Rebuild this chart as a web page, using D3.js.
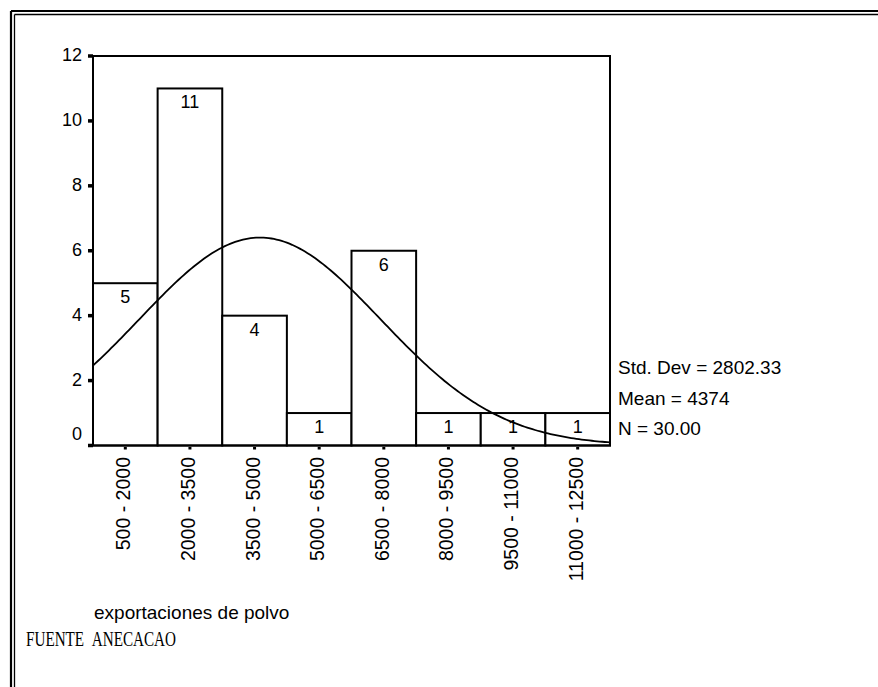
<!DOCTYPE html>
<html>
<head>
<meta charset="utf-8">
<script src="https://cdn.jsdelivr.net/npm/d3@7"></script>
<style>
  html, body { margin: 0; padding: 0; background: #fff; }
  svg { display: block; }
  text { font-family: Arial, "Liberation Sans", sans-serif; fill: #000; }
</style>
</head>
<body>
<script>
// ---- data ----
const categories = ["500 - 2000", "2000 - 3500", "3500 - 5000", "5000 - 6500",
                    "6500 - 8000", "8000 - 9500", "9500 - 11000", "11000 - 12500"];
const binEdges = [500, 2000, 3500, 5000, 6500, 8000, 9500, 11000, 12500];
const counts = [5, 11, 4, 1, 6, 1, 1, 1];
const yTicks = [0, 2, 4, 6, 8, 10, 12];
const stdDev = 2802.33;
const mean = 4374;
const nCases = 30;
const statLabels = ["Std. Dev = 2802.33", "Mean = 4374", "N = 30.00"];
const xTitle = "exportaciones de polvo";
const sourceNote = "FUENTE\u00a0\u00a0ANECACAO";

// ---- layout ----
const W = 878, H = 687;
const svg = d3.select("body").append("svg").attr("width", W).attr("height", H);

// outer double frame (top & left)
svg.append("line").attr("x1", 11).attr("y1", 11).attr("x2", W).attr("y2", 11)
  .attr("stroke", "#000").attr("stroke-width", 2.2);
svg.append("line").attr("x1", 11).attr("y1", 11).attr("x2", 11).attr("y2", H)
  .attr("stroke", "#000").attr("stroke-width", 2.2);
svg.append("line").attr("x1", 14.5).attr("y1", 14.5).attr("x2", W).attr("y2", 14.5)
  .attr("stroke", "#000").attr("stroke-width", 1.3);
svg.append("line").attr("x1", 14.5).attr("y1", 14.5).attr("x2", 14.5).attr("y2", H)
  .attr("stroke", "#000").attr("stroke-width", 1.3);

const x = d3.scaleLinear().domain([binEdges[0], binEdges[binEdges.length - 1]]).range([93, 610]);
const y = d3.scaleLinear().domain([0, 12]).range([445.5, 56]);

// bars
const g = svg.append("g");
g.selectAll("rect.bar").data(counts).enter().append("rect")
  .attr("class", "bar")
  .attr("x", (d, i) => x(binEdges[i]))
  .attr("width", (d, i) => x(binEdges[i + 1]) - x(binEdges[i]))
  .attr("y", d => y(d))
  .attr("height", d => y(0) - y(d))
  .attr("fill", "#fff").attr("stroke", "#000").attr("stroke-width", 2);

// bar count labels
g.selectAll("text.cnt").data(counts).enter().append("text")
  .attr("class", "cnt")
  .attr("x", (d, i) => (x(binEdges[i]) + x(binEdges[i + 1])) / 2)
  .attr("y", d => y(d) + 20)
  .attr("text-anchor", "middle")
  .attr("font-size", 18)
  .text(d => d);

// normal curve from the shown statistics
const binWidth = binEdges[1] - binEdges[0];
const curveX = d3.range(binEdges[0], binEdges[binEdges.length - 1] + 1, 60);
const normal = v => nCases * binWidth / (stdDev * Math.sqrt(2 * Math.PI)) *
  Math.exp(-0.5 * Math.pow((v - mean) / stdDev, 2));
g.append("path")
  .datum(curveX)
  .attr("d", d3.line().x(v => x(v)).y(v => y(normal(v))))
  .attr("fill", "none").attr("stroke", "#000").attr("stroke-width", 1.8);

// plot frame
svg.append("rect")
  .attr("x", x.range()[0]).attr("y", y(12))
  .attr("width", x.range()[1] - x.range()[0])
  .attr("height", y(0) - y(12))
  .attr("fill", "none").attr("stroke", "#000").attr("stroke-width", 2);

// y axis ticks & labels
const yAx = svg.append("g");
yAx.selectAll("rect").data(yTicks).enter().append("rect")
  .attr("x", 88).attr("y", d => y(d) - 1.75).attr("width", 5).attr("height", 3.5)
  .attr("fill", "#000");
yAx.selectAll("text").data(yTicks).enter().append("text")
  .attr("x", 82)
  .attr("y", d => y(d) + (d === 0 ? -5.5 : 5))
  .attr("text-anchor", "end")
  .attr("font-size", 18)
  .text(d => d);

// x axis ticks & rotated labels
const xc = categories.map((c, i) => (x(binEdges[i]) + x(binEdges[i + 1])) / 2);
const xAx = svg.append("g");
xAx.selectAll("rect").data(categories).enter().append("rect")
  .attr("x", (d, i) => xc[i] - 1.5).attr("y", 447).attr("width", 3).attr("height", 2.5)
  .attr("fill", "#000");
xAx.selectAll("text").data(categories).enter().append("text")
  .attr("transform", (d, i) => `translate(${xc[i] + 5},457) rotate(-90)`)
  .attr("text-anchor", "end")
  .attr("font-size", 19.5)
  .text(d => d);

// statistics
svg.selectAll("text.stat").data(statLabels).enter().append("text")
  .attr("class", "stat")
  .attr("x", 618)
  .attr("y", (d, i) => 374 + i * 30.5)
  .attr("font-size", 19)
  .text(d => d);

// axis title
svg.append("text")
  .attr("x", 94).attr("y", 619)
  .attr("font-size", 19)
  .text(xTitle);

// source note
svg.append("text")
  .attr("x", 26).attr("y", 646)
  .attr("font-size", 22)
  .attr("textLength", 150)
  .attr("lengthAdjust", "spacingAndGlyphs")
  .style("font-family", "'Times New Roman', 'Liberation Serif', serif")
  .text(sourceNote);
</script>
</body>
</html>
